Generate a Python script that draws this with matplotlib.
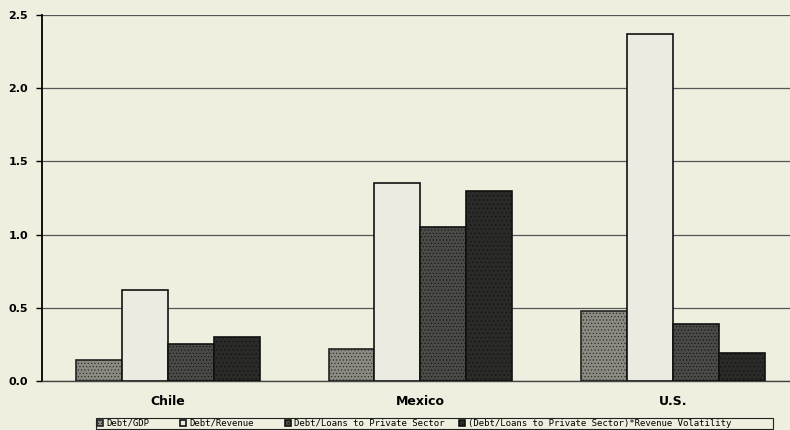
import matplotlib
matplotlib.use("Agg")
import matplotlib.pyplot as plt
from matplotlib.patches import Rectangle
import numpy as np

countries = ["Chile", "Mexico", "U.S."]
series_names = ["Debt/GDP", "Debt/Revenue", "Debt/Loans to Private Sector",
                "(Debt/Loans to Private Sector)*Revenue Volatility"]
debt_gdp = [0.14, 0.22, 0.48]
debt_revenue = [0.62, 1.35, 2.37]
debt_loans = [0.25, 1.05, 0.39]
debt_loans_vol = [0.30, 1.30, 0.19]
yticks = [0.0, 0.5, 1.0, 1.5, 2.0, 2.5]
ytick_labels = ["0.0", "0.5", "1.0", "1.5", "2.0", "2.5"]

W, H = 790, 430
bg = "#efefdf"
fig = plt.figure(figsize=(7.9, 4.3), dpi=100, facecolor=bg)
ax = fig.add_axes([0.053, 0.114, 0.947, 0.851], facecolor=bg)

plt.rcParams['hatch.linewidth'] = 0.4
x = np.arange(len(countries))
w = 0.182
styles = [
    dict(color="#8a8a80", edgecolor="#222222", hatch="....."),
    dict(color="#ebebe2", edgecolor="#111111", hatch=None),
    dict(color="#4a4a46", edgecolor="#111111", hatch="....."),
    dict(color="#2a2a28", edgecolor="#111111", hatch="...."),
]
data = [debt_gdp, debt_revenue, debt_loans, debt_loans_vol]
handles = []
for i, (vals, st) in enumerate(zip(data, styles)):
    b = ax.bar(x + (i - 1.5) * w, vals, width=w, color=st["color"],
               edgecolor=st["edgecolor"], hatch=st["hatch"], linewidth=1.2,
               zorder=3, label=series_names[i])
    handles.append(b)

ax.set_xlim(-0.5, 2.465)
ax.set_ylim(0, 2.5)
ax.set_yticks(yticks)
ax.set_yticklabels(ytick_labels, fontsize=8, fontweight="bold")
ax.yaxis.grid(True, color="#555555", linewidth=0.9, zorder=0)
ax.set_xticks(x)
ax.set_xticklabels(countries, fontsize=9, fontweight="bold")
ax.tick_params(axis="x", length=0, pad=10)
ax.tick_params(axis="y", length=4, width=1, direction="out", pad=6)
for s in ["top", "right"]:
    ax.spines[s].set_visible(False)
ax.spines["left"].set_linewidth(1.3)
ax.spines["bottom"].set_linewidth(1.0)
ax.spines["bottom"].set_color("#444444")

# legend frame
fig.patches.append(Rectangle((96 / W, 1 - 429 / H), 677 / W, 11 / H,
                             transform=fig.transFigure, facecolor=bg,
                             edgecolor="#222222", linewidth=0.8, zorder=1))
leg_x = [97, 180, 285, 459]
for h, name, lx in zip(handles, series_names, leg_x):
    fig.legend(handles=[h], labels=[name], loc="center left",
               bbox_to_anchor=(lx / W, 1 - 423.5 / H), frameon=False,
               handlelength=0.7, handleheight=0.7,
               handletextpad=0.3, borderpad=0, borderaxespad=0,
               prop=dict(family="DejaVu Sans Mono", size=6.5))

fig.savefig("out.png", dpi=100, facecolor=bg)
